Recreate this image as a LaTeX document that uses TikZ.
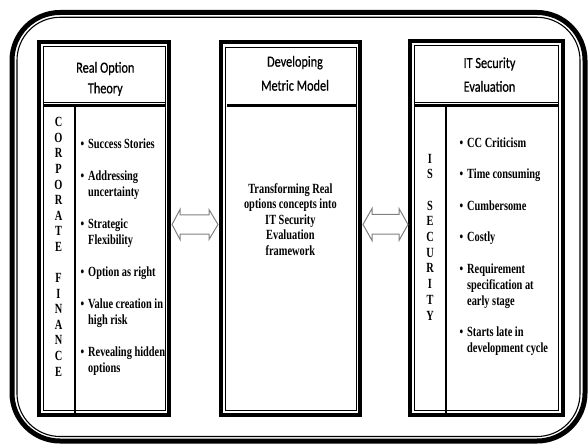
\documentclass[tikz,border=0pt]{standalone}
\usepackage{fontspec}
\setmainfont{Liberation Serif}[FakeStretch=0.74]
\newfontfamily\hdfont{Carlito}[FakeStretch=0.79,FakeBold=0.6]
\usetikzlibrary{calc}
\newcommand\bitem{\llap{\textbullet\hspace{4pt}}}
\begin{document}
\begin{tikzpicture}[x=1pt,y=-1pt,
  boxframe/.style={draw=black, line width=4pt, inner sep=0pt, outer sep=0pt},
  thinline/.style={draw=black, line width=0.8pt},
  hdrline/.style={draw=black, line width=2.6pt},
  divline/.style={draw=black, line width=1.4pt},
  hdr/.style={font=\hdfont\fontsize{15.5}{#1}\selectfont, align=center, anchor=base, inner sep=0pt},
  blt/.style={font=\bfseries\fontsize{14}{#1}\selectfont, align=left, anchor=base west, inner sep=0pt},
  vlet/.style={font=\bfseries\fontsize{14}{#1}\selectfont, align=center, anchor=base, inner sep=0pt},
  midtext/.style={font=\bfseries\fontsize{14}{15.4}\selectfont, align=center, anchor=base, inner sep=0pt},
  hollow/.style={draw=black!50, line width=1pt, line join=miter}]
\useasboundingbox (0,0) rectangle (588,446);
% outer rounded frame
\draw[black, line width=5pt, rounded corners=48pt] (12,12.5) rectangle (585,441);
\draw[black, line width=1.1pt, rounded corners=43pt] (17,17.3) rectangle (580,436.5);
% boxes
\node[boxframe, minimum width=130, minimum height=373] (lbox) at (104,228.5) {};
\node[boxframe, minimum width=139, minimum height=372.5] (mbox) at (290.5,228.75) {};
\node[boxframe, minimum width=152.5, minimum height=374] (rbox) at (486.25,228) {};
\draw[thinline] (43,46.5) rectangle (165,410.5);
\draw[thinline] (225.5,47) rectangle (356,410.5);
\draw[thinline] (414.5,45.5) rectangle (558,410.5);
% header separators
\draw[hdrline] (43,105.5) -- (165,105.5);
\draw[thinline, line width=0.6pt] (43,102) -- (165,102);
\draw[hdrline, line width=3pt] (227,105.5) -- (356,105.5);
\draw[hdrline] (414.5,105.5) -- (558,105.5);
\draw[thinline, line width=0.6pt] (414.5,102) -- (558,102);
% column dividers
\draw[divline] (75,105.5) -- (75,417);
\draw[divline] (446,105.5) -- (446,416);
% hollow double arrows
\coordinate (a1) at (172,224.5);
\coordinate (a2) at (218,224.5);
\coordinate (b1) at (363,224.5);
\coordinate (b2) at (408,224.5);
\draw[hollow] (a1) -- ($(a1)+(8,-15)$) -- ($(a1)+(8,-9.5)$) -- ($(a2)+(-9,-9.5)$) -- ($(a2)+(-9,-15)$) -- (a2)
  -- ($(a2)+(-9,15)$) -- ($(a2)+(-9,9.5)$) -- ($(a1)+(8,9.5)$) -- ($(a1)+(8,15)$) -- cycle;
\draw[hollow] (b1) -- ($(b1)+(9,-16)$) -- ($(b1)+(9,-10)$) -- ($(b2)+(-9,-10)$) -- ($(b2)+(-9,-16)$) -- (b2)
  -- ($(b2)+(-9,16)$) -- ($(b2)+(-9,9.5)$) -- ($(b1)+(9,9.5)$) -- ($(b1)+(9,16)$) -- cycle;
% headers (base anchor = last line baseline)
\node[hdr=20.6] (lhdr) at (105.3,93.3) {Real Option\\Theory};
\node[hdr=24] (mhdr) at (295,90.7) {Developing\\Metric Model};
\node[hdr=23.7] (rhdr) at (489.5,91.7) {IT Security\\Evaluation};
% vertical letters
\node[vlet=15.58] (corp) at (58.5,376) {C\\O\\R\\P\\O\\R\\A\\T\\E\\[15.58pt]F\\I\\N\\A\\N\\C\\E};
\node[vlet=15.67] (issec) at (430,320) {I\\S\\[15.67pt]S\\E\\C\\U\\R\\I\\T\\Y};
% bullet lists
\node[blt=16] (llist) at (88,372) {\bitem Success Stories\\[16pt]
\bitem Addressing\\uncertainty\\[16pt]
\bitem Strategic\\Flexibility\\[16pt]
\bitem Option as right\\[16pt]
\bitem Value creation in\\high risk\\[16pt]
\bitem Revealing hidden\\options};
\node[blt=15.8] (rlist) at (467,352.4) {\bitem CC Criticism\\[15.8pt]
\bitem Time consuming\\[15.8pt]
\bitem Cumbersome\\[15.8pt]
\bitem Costly\\[15.8pt]
\bitem Requirement\\specification at\\early stage\\[15.8pt]
\bitem Starts late in\\development cycle};
% middle text
\node[midtext] (mtext) at (290.4,255.1) {Transforming Real\\options concepts into\\IT Security\\Evaluation\\framework};
\end{tikzpicture}
\end{document}
